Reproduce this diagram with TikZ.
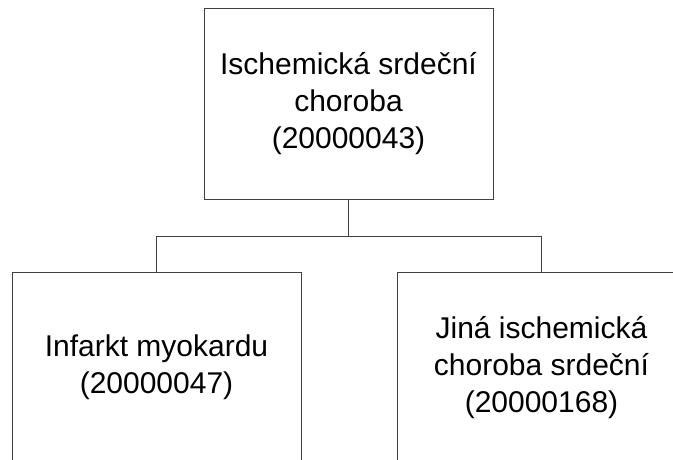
\documentclass[tikz,border=0pt]{standalone}
\usepackage{fontspec}
\setmainfont{Liberation Sans}
\usetikzlibrary{positioning}

\tikzset{
  orgbox/.style={draw=black!75, line width=0.9pt, minimum width=289pt, minimum height=191pt,
    align=center, inner sep=0pt, font=\fontsize{30}{37}\selectfont},
  link/.style={draw=black!75, line width=0.9pt}
}

\begin{document}
\begin{tikzpicture}[x=1pt,y=1pt]

  % === Frame ===
  \clip (0,0) rectangle (673,-459);

  % === Boxes ===
  \node[orgbox] (root) at (348.5,-103.5) {Ischemická srdeční\\choroba\\(20000043)};
  \node[orgbox] (infarkt) at (156.5,-367.5) {Infarkt myokardu\\(20000047)};
  \node[orgbox] (jina) at (541.5,-367.5) {Jiná ischemická\\choroba srdeční\\(20000168)};

  % === Connectors ===
  \coordinate (bus) at (348.5,-236);
  \draw[link] (root.south) -- (bus);
  \draw[link] (bus) -| (infarkt.north);
  \draw[link] (bus) -| (jina.north);

\end{tikzpicture}
\end{document}
